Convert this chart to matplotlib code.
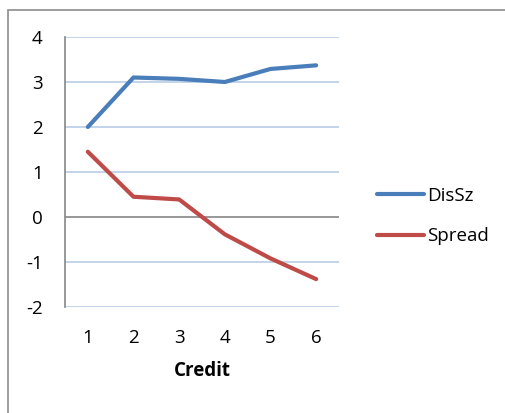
import matplotlib.pyplot as plt
from matplotlib.patches import Rectangle

plt.rcParams['font.family'] = ['Open Sans', 'DejaVu Sans']

credit = [1, 2, 3, 4, 5, 6]
dissz = [2.0, 3.10, 3.07, 3.0, 3.29, 3.37]
spread = [1.45, 0.45, 0.39, -0.385, -0.92, -1.38]
yticks = [-2, -1, 0, 1, 2, 3, 4]

W, H = 506, 413
fig = plt.figure(figsize=(W / 100, H / 100), dpi=100)

# outer chart border (runs off the right and bottom edges)
fig.patches.append(Rectangle((8 / W, -0.05), 1.2, 1 - 10 / H + 0.05,
                             transform=fig.transFigure, fill=False,
                             edgecolor='#8c8c8c', linewidth=1.2))

ax = fig.add_axes([65 / W, 1 - 307 / H, (339 - 65) / W, (307 - 37) / H])

for y in yticks:
    if y == 0:
        ax.axhline(y, color='#868686', linewidth=1.2, zorder=1)
    else:
        ax.axhline(y, color='#b9cde5', linewidth=1.2, zorder=1)

ax.plot(credit, dissz, color='#4a7ebb', linewidth=3, label='DisSz',
        solid_capstyle='round', zorder=3)
ax.plot(credit, spread, color='#be4b48', linewidth=3, label='Spread',
        solid_capstyle='round', zorder=3)

ax.set_xlim(0.5, 6.5)
ax.set_ylim(-2, 4)
ax.set_xticks(credit)
ax.set_yticks(yticks)
ax.set_yticklabels([str(y) for y in yticks])
ax.tick_params(axis='both', length=0, labelsize=13.5)
ax.tick_params(axis='y', pad=16)
ax.tick_params(axis='x', pad=16)
for s in ['top', 'right', 'bottom']:
    ax.spines[s].set_visible(False)
ax.spines['left'].set_color('#868686')
ax.spines['left'].set_linewidth(1.2)

ax.set_xlabel('Credit', fontsize=13.5, fontweight='bold', labelpad=10)

ax.legend(loc='center left', bbox_to_anchor=(360 / W, 1 - 216 / H),
          bbox_transform=fig.transFigure, frameon=False, fontsize=13.5,
          handlelength=2.5, handletextpad=0.2, labelspacing=1.2)

fig.savefig('out.png', dpi=100)
